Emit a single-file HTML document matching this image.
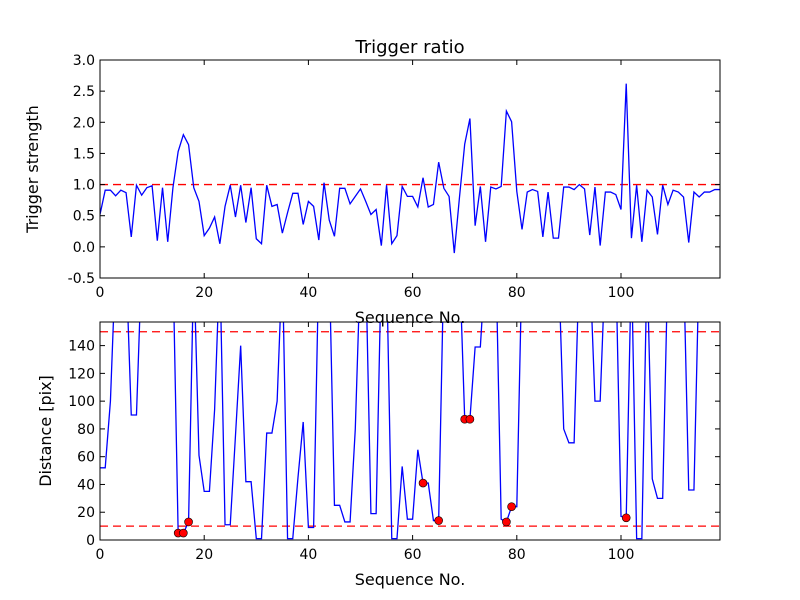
<!DOCTYPE html>
<html><head><meta charset="utf-8"><style>
html,body{margin:0;padding:0;background:#fff;}
svg{display:block;font-family:"DejaVu Sans","Liberation Sans",sans-serif;}
</style></head><body>
<svg id="chart" width="800" height="600" viewBox="0 0 800 600">
<rect x="0" y="0" width="800" height="600" fill="#fff"/>
<defs>
<clipPath id="c1"><rect x="100" y="60" width="620" height="218"/></clipPath>
<clipPath id="c2"><rect x="100" y="322" width="620" height="218"/></clipPath>
</defs>
<text x="410" y="53" font-size="18" text-anchor="middle">Trigger ratio</text>
<g id="top"></g>
<g id="bot"></g>
</svg>
<script>
const strength = [0.52,0.91,0.91,0.82,0.91,0.87,0.16,0.99,0.83,0.95,0.98,0.10,0.95,0.08,0.95,1.53,1.80,1.64,0.95,0.73,0.18,0.30,0.48,0.05,0.65,0.99,0.48,0.99,0.39,0.95,0.13,0.05,0.99,0.65,0.68,0.22,0.55,0.86,0.86,0.36,0.73,0.65,0.11,1.03,0.43,0.17,0.94,0.94,0.69,0.81,0.93,0.73,0.52,0.60,0.02,0.99,0.05,0.18,0.97,0.81,0.81,0.64,1.11,0.64,0.68,1.36,0.94,0.81,-0.10,0.80,1.65,2.06,0.34,0.97,0.08,0.96,0.93,0.97,2.18,2.01,0.89,0.28,0.88,0.92,0.89,0.16,0.88,0.14,0.14,0.96,0.96,0.92,1.00,0.93,0.19,0.96,0.02,0.88,0.88,0.84,0.60,2.62,0.14,0.99,0.08,0.91,0.80,0.20,0.99,0.68,0.91,0.88,0.80,0.07,0.88,0.80,0.88,0.88,0.92,0.92];
const distance = [52,52,100,200,200,200,90,90,200,200,200,200,200,200,200,5,5,13,200,61,35,35,94,200,11,11,75,140,42,42,1,1,77,77,100,200,1,1,45,85,9,9,200,200,200,25,25,13,13,80,200,200,19,19,200,200,1,1,53,15,15,65,41,41,14,14,200,200,200,200,87,87,139,139,200,200,200,15,13,24,24,200,200,200,200,200,200,200,200,80,70,70,200,200,200,100,100,200,200,200,17,16,200,1,1,200,44,30,30,200,200,200,200,36,36,200,200,200,200,200];
const markerIdx = [15,16,17,62,65,70,71,78,79,101];
const xTicks = [0,20,40,60,80,100];
const topTicks = [-0.5,0,0.5,1.0,1.5,2.0,2.5,3.0];
const botTicks = [0,20,40,60,80,100,120,140];
const topThreshold = [1.0];
const botThresholds = [10,150];

const NS="http://www.w3.org/2000/svg";
function mk(p,t,a){const e=document.createElementNS(NS,t);for(const k in a)e.setAttribute(k,a[k]);p.appendChild(e);return e;}
const X0=100,X1=720,XMAX=119;
const xs=v=>X0+v*(X1-X0)/XMAX;

function panel(g,top,bot,ymin,ymax,ticks,fmt,data,thr,clip,ylabel,ylx){
  const ys=v=>bot-(v-ymin)*(bot-top)/(ymax-ymin);
  const cg=mk(g,'g',{'clip-path':'url(#'+clip+')'});
  thr.forEach(t=>{
    const l=mk(cg,'line',{x1:X0,x2:X1,y1:ys(t),y2:ys(t),stroke:'#f00','stroke-width':1.3,'stroke-dasharray':'8,5'});
    
    
  });
  const p=mk(cg,'polyline',{points:data.map((v,i)=>xs(i).toFixed(2)+','+ys(v).toFixed(2)).join(' '),fill:'none',stroke:'#00f','stroke-width':1.3});
  
  
  mk(g,'rect',{x:X0,y:top,width:X1-X0,height:bot-top,fill:'none',stroke:'#000','stroke-width':1});
  xTicks.forEach(t=>{
    const x=xs(t);
    mk(g,'line',{x1:x,x2:x,y1:bot,y2:bot-5,stroke:'#000'});
    mk(g,'line',{x1:x,x2:x,y1:top,y2:top+5,stroke:'#000'});
    const tx=mk(g,'text',{x:x,y:bot+19,'font-size':14,'text-anchor':'middle'});tx.textContent=t;
    
    
  });
  ticks.forEach(t=>{
    const y=ys(t);
    mk(g,'line',{x1:X0,x2:X0+5,y1:y,y2:y,stroke:'#000'});
    mk(g,'line',{x1:X1,x2:X1-5,y1:y,y2:y,stroke:'#000'});
    const tx=mk(g,'text',{x:X0-5,y:y+5,'font-size':14,'text-anchor':'end'});tx.textContent=fmt(t);
    
    
  });
  const xl=mk(g,'text',{x:410,y:bot+45,'font-size':16,'text-anchor':'middle'});xl.textContent='Sequence No.';
  
  
  const yl=mk(g,'text',{x:ylx,y:(top+bot)/2,'font-size':16,'text-anchor':'middle',transform:'rotate(-90 '+ylx+' '+(top+bot)/2+')'});yl.textContent=ylabel;
  
  
  return ys;
}
panel(document.getElementById('top'),60,278,-0.5,3.0,topTicks,t=>t.toFixed(1),strength,topThreshold,'c1','Trigger strength',38);
const ysb=panel(document.getElementById('bot'),322,540,0,157,botTicks,t=>String(t),distance,botThresholds,'c2','Distance [pix]',51);
const bg=document.getElementById('bot');
markerIdx.forEach(i=>{
  const c=mk(bg,'circle',{cx:xs(i),cy:ysb(distance[i]),r:4,fill:'#f00',stroke:'#000','stroke-width':0.6});
  
  
});
</script>
</body></html>
